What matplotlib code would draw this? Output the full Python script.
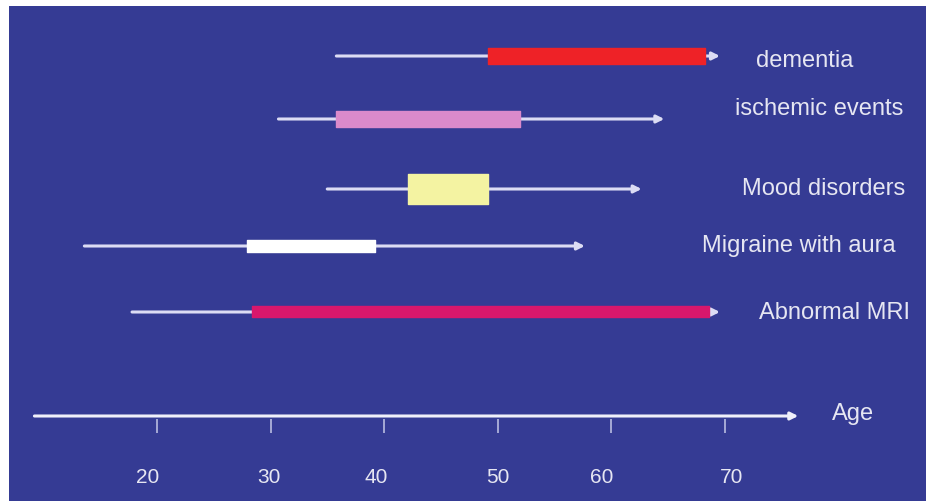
import matplotlib
matplotlib.use("Agg")
import matplotlib.pyplot as plt

# ---- data (ages, years) ----
conditions = ["dementia", "ischemic events", "Mood disorders", "Migraine with aura", "Abnormal MRI"]
line_start = [35.8, 30.7, 35.0, 13.6, 17.8]
range_start = [49.2, 35.8, 42.1, 27.9, 28.4]
range_end = [68.3, 52.0, 49.2, 39.2, 68.6]
arrow_end = [69.6, 64.7, 62.7, 57.7, 69.6]
tick_values = [20, 30, 40, 50, 60, 70]
tick_labels = ["20", "30", "40", "50", "60", "70"]
axis_start, axis_end = 9.2, 76.5

# ---- styling / layout ----
bar_colors = ["#ee2227", "#db8acb", "#f4f3a2", "#ffffff", "#d9176c"]
bar_heights_px = [16, 16, 30, 12, 11]
row_y = [57, 120, 190, 247, 313]
label_x = [72.8, 70.9, 71.5, 68.0, 73.0]
label_y = [61, 109, 189, 246, 313]
tick_label_dx = [-0.8, -0.1, -0.7, 0.0, -0.8, 0.6]
bg = "#353b94"
thin = "#dcdcf4"
txt = "#e6e6f2"

plt.rcParams['font.family'] = ['Liberation Sans', 'DejaVu Sans']

fig = plt.figure(figsize=(9.29, 5.02), dpi=100, facecolor="white")
ax = fig.add_axes([9 / 929, 0, 917 / 929, 495 / 502])
ax.set_facecolor(bg)
px_per_year = 11.35
ax.set_xlim(20 - 148 / px_per_year, 20 + 769 / px_per_year)
ax.set_ylim(502, 7)
ax.set_axis_off()
ax.add_patch(plt.Rectangle((0, 0), 1, 1, transform=ax.transAxes, color=bg, zorder=0))

for i, name in enumerate(conditions):
    y = row_y[i]
    ax.annotate("", xy=(arrow_end[i], y), xytext=(line_start[i], y),
                arrowprops=dict(arrowstyle="-|>", lw=2.2, color=thin,
                                mutation_scale=11, shrinkA=0, shrinkB=0),
                zorder=2)
    h = bar_heights_px[i]
    ax.add_patch(plt.Rectangle((range_start[i], y - h / 2),
                               range_end[i] - range_start[i], h,
                               facecolor=bar_colors[i], edgecolor=bar_colors[i],
                               lw=1.0, joinstyle="round", zorder=3))
    ax.text(label_x[i], label_y[i], name, color=txt, fontsize=17,
            ha="left", va="center", zorder=4)

# age axis
ax.annotate("", xy=(axis_end, 417), xytext=(axis_start, 417),
            arrowprops=dict(arrowstyle="-|>", lw=2.2, color="#f0f0fa",
                            mutation_scale=11, shrinkA=0, shrinkB=0), zorder=2)
ax.vlines(tick_values, 420, 434, color="#b8bce0", lw=1.2, zorder=2)
for v, lab, dx in zip(tick_values, tick_labels, tick_label_dx):
    ax.text(v + dx, 478, lab, color=txt, fontsize=15, ha="center", va="center")
ax.text(79.5, 414, "Age", color=txt, fontsize=17, ha="left", va="center")

fig.savefig("out.png", dpi=100, facecolor="white")
